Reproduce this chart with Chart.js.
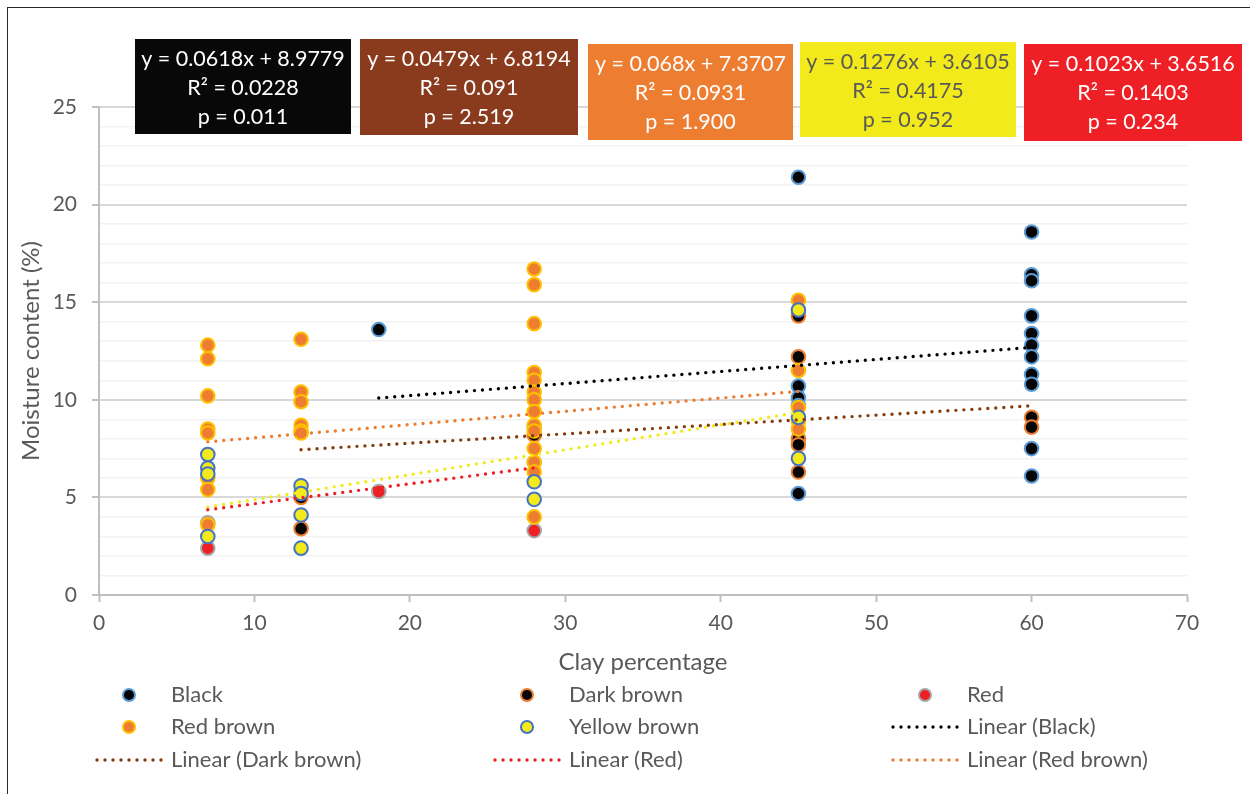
<!DOCTYPE html>
<html>
<head>
<meta charset="utf-8">
<title>Moisture content vs clay percentage</title>
<script src="https://cdn.jsdelivr.net/npm/chart.js@4.4.0/dist/chart.umd.min.js"></script>
<style>
  html, body { margin: 0; padding: 0; background: #fff; }
  #wrap { position: relative; width: 1250px; height: 794px; overflow: hidden; }
  #frame { position: absolute; left: 7px; top: 7px; width: 1400px; height: 900px; border: 1.5px solid #262626; }
  #chart { position: absolute; left: 0; top: 0; }
</style>
</head>
<body>
<div id="wrap">
  <div id="frame"></div>
  <canvas id="chart" width="1250" height="794"></canvas>
</div>
<script>
// series names, in Excel's series order
const seriesNames = ['Black', 'Dark brown', 'Red', 'Red brown', 'Yellow brown'];

// clay percentage (x) and moisture content (y) per soil colour
const blackClay = [18, 45, 45, 45, 45, 45, 60, 60, 60, 60, 60, 60, 60, 60, 60, 60, 60];
const blackMoisture = [13.6, 21.4, 10.7, 10.1, 9.7, 5.2, 18.6, 16.4, 16.1, 14.3, 13.4, 12.8, 12.2, 11.3, 10.8, 7.5, 6.1];

const darkBrownClay = [13, 13, 28, 45, 45, 45, 45, 45, 60, 60];
const darkBrownMoisture = [3.4, 5.0, 8.2, 14.3, 12.2, 8.0, 7.7, 6.3, 9.1, 8.6];

const redClay = [7, 7, 18, 28, 28, 28];
const redMoisture = [2.4, 3.7, 5.3, 3.3, 6.8, 8.6];

const redBrownClay = [7, 7, 7, 7, 7, 7, 7, 7,
  13, 13, 13, 13, 13, 13,
  28, 28, 28, 28, 28, 28, 28, 28, 28, 28, 28, 28, 28, 28,
  45, 45, 45, 45, 45];
const redBrownMoisture = [12.8, 12.1, 10.2, 8.5, 8.3, 6.0, 5.4, 3.6,
  13.1, 10.4, 9.9, 8.7, 8.4, 8.3,
  16.7, 15.9, 13.9, 11.4, 11.0, 10.4, 10.0, 9.4, 8.7, 8.4, 7.5, 6.8, 6.3, 4.0,
  15.1, 11.5, 9.6, 8.9, 8.5];

const yellowBrownClay = [7, 7, 7, 7, 13, 13, 13, 13, 28, 28, 45, 45, 45];
const yellowBrownMoisture = [7.2, 6.5, 6.2, 3.0, 5.6, 5.2, 4.1, 2.4, 5.8, 4.9, 14.6, 9.1, 7.0];

// linear trendlines as printed in the boxes
const trendSlope = [0.0618, 0.0479, 0.1023, 0.068, 0.1276];
const trendIntercept = [8.9779, 6.8194, 3.6516, 7.3707, 3.6105];
const trendR2 = [0.0228, 0.091, 0.1403, 0.0931, 0.4175];
const trendP = [0.011, 2.519, 0.234, 1.900, 0.952];

const yTicks = [0, 5, 10, 15, 20, 25];

const clayBySeries = [blackClay, darkBrownClay, redClay, redBrownClay, yellowBrownClay];
const moistBySeries = [blackMoisture, darkBrownMoisture, redMoisture, redBrownMoisture, yellowBrownMoisture];

// styles
const markerFill = ['#050505', '#050505', '#ee1f25', '#ed7d31', '#f2ea1a'];
const markerEdge = ['#5b9bd5', '#ed7d31', '#a5a5a5', '#ffc000', '#4472c4'];
const trendColor = ['#000000', '#843c0c', '#ee1f25', '#ed7d31', '#f2ea1a'];
const markerOrder = [5, 4, 3, 2, 1];
const trendInLegend = [true, true, true, true, false];

const FONT = 'Lato, "Open Sans", sans-serif';
const TEXT = '#595959';

const datasets = [];
seriesNames.forEach((name, s) => {
  datasets.push({
    label: name,
    kind: 'marker',
    data: clayBySeries[s].map((x, i) => ({ x: x, y: moistBySeries[s][i] })),
    backgroundColor: markerFill[s],
    borderColor: markerEdge[s],
    borderWidth: 2,
    pointRadius: 6.8,
    pointHoverRadius: 6.8,
    order: markerOrder[s]
  });
});
seriesNames.forEach((name, s) => {
  const lo = Math.min(...clayBySeries[s]);
  const hi = Math.max(...clayBySeries[s]);
  datasets.push({
    type: 'line',
    label: 'Linear (' + name + ')',
    kind: 'trend',
    inLegend: trendInLegend[s],
    data: [lo, hi].map(x => ({ x: x, y: trendSlope[s] * x + trendIntercept[s] })),
    borderColor: trendColor[s],
    borderWidth: 3.4,
    borderDash: [0, 8],
    borderCapStyle: 'round',
    pointRadius: 0,
    fill: false,
    showLine: true,
    order: 0
  });
});

// equation boxes, left to right
const boxSeries = [0, 1, 3, 4, 2];
const boxRect = [[135, 39, 216, 95], [360, 39, 218, 96], [588, 44, 205, 96], [800, 42, 216, 95], [1024, 44, 218, 97]];
const boxFill = ['#080808', '#8a3b1d', '#ed7d31', '#f2ea1a', '#ee1f25'];
const boxText = ['#ffffff', '#ffffff', '#ffffff', '#595959', '#ffffff'];

const eqBoxes = {
  id: 'eqBoxes',
  afterDraw(chart) {
    const ctx = chart.ctx;
    ctx.save();
    ctx.font = '21.5px ' + FONT;
    ctx.textAlign = 'center';
    ctx.textBaseline = 'middle';
    boxSeries.forEach((s, k) => {
      const [l, t, w, h] = boxRect[k];
      ctx.fillStyle = boxFill[k];
      ctx.fillRect(l, t, w, h);
      ctx.fillStyle = boxText[k];
      const cx = l + w / 2;
      ctx.fillText('y = ' + trendSlope[s] + 'x + ' + trendIntercept[s], cx, t + 20);
      ctx.fillText('R\u00B2 = ' + trendR2[s], cx, t + 49);
      ctx.fillText('p = ' + trendP[s].toFixed(3), cx, t + 78);
    });
    ctx.restore();
  }
};

// three-column legend below the axis title
const gridLegend = {
  id: 'gridLegend',
  afterDraw(chart) {
    const ctx = chart.ctx;
    const items = chart.data.datasets.filter(d => d.kind === 'marker' || d.inLegend);
    const colX = [95, 493, 891];
    const rowY = [695, 727, 760];
    ctx.save();
    ctx.font = '22px ' + FONT;
    ctx.textBaseline = 'middle';
    ctx.textAlign = 'left';
    items.forEach((d, i) => {
      const x0 = colX[i % 3];
      const y = rowY[Math.floor(i / 3)];
      if (d.kind === 'marker') {
        ctx.beginPath();
        ctx.arc(x0 + 34, y, 6, 0, Math.PI * 2);
        ctx.fillStyle = d.backgroundColor;
        ctx.fill();
        ctx.lineWidth = 2;
        ctx.strokeStyle = d.borderColor;
        ctx.stroke();
      } else {
        ctx.beginPath();
        ctx.setLineDash([0, 8]);
        ctx.lineCap = 'round';
        ctx.lineWidth = 3.4;
        ctx.strokeStyle = d.borderColor;
        ctx.moveTo(x0 + 2, y);
        ctx.lineTo(x0 + 68, y);
        ctx.stroke();
        ctx.setLineDash([]);
      }
      ctx.fillStyle = TEXT;
      ctx.fillText(d.label, x0 + 76, y);
    });
    ctx.restore();
  }
};

new Chart(document.getElementById('chart'), {
  type: 'scatter',
  data: { datasets: datasets },
  plugins: [eqBoxes, gridLegend],
  options: {
    responsive: false,
    animation: false,
    layout: { padding: { left: 10, top: 107, right: 63, bottom: 114 } },
    plugins: { legend: { display: false }, tooltip: { enabled: false } },
    scales: {
      x: {
        type: 'linear',
        min: 0, max: 70,
        afterFit: s => { s.height = 85; },
        ticks: { stepSize: 10, color: TEXT, font: { size: 21, family: FONT }, padding: 9 },
        grid: { drawOnChartArea: false, tickLength: 7, tickColor: '#bfbfbf', tickWidth: 2 },
        border: { color: '#bfbfbf', width: 2 },
        title: { display: true, text: 'Clay percentage', color: TEXT, font: { size: 24, family: FONT }, padding: { top: 0, bottom: 3 } }
      },
      y: {
        min: 0, max: 25,
        afterFit: s => { s.width = 89; },
        ticks: {
          stepSize: 1, autoSkip: false, color: TEXT, font: { size: 21, family: FONT }, padding: 15,
          callback: v => yTicks.includes(v) ? v : ''
        },
        grid: {
          tickLength: 7,
          color: c => yTicks.includes(c.tick.value) ? '#d9d9d9' : '#f2f2f2',
          lineWidth: c => yTicks.includes(c.tick.value) ? 2 : 1.5,
          tickColor: c => yTicks.includes(c.tick.value) ? '#bfbfbf' : 'rgba(0,0,0,0)',
          tickWidth: 2
        },
        border: { color: '#bfbfbf', width: 2 },
        title: { display: true, text: 'Moisture content (%)', color: TEXT, font: { size: 24, family: FONT }, padding: { top: 7, bottom: 0 } }
      }
    }
  }
});
</script>
</body>
</html>
